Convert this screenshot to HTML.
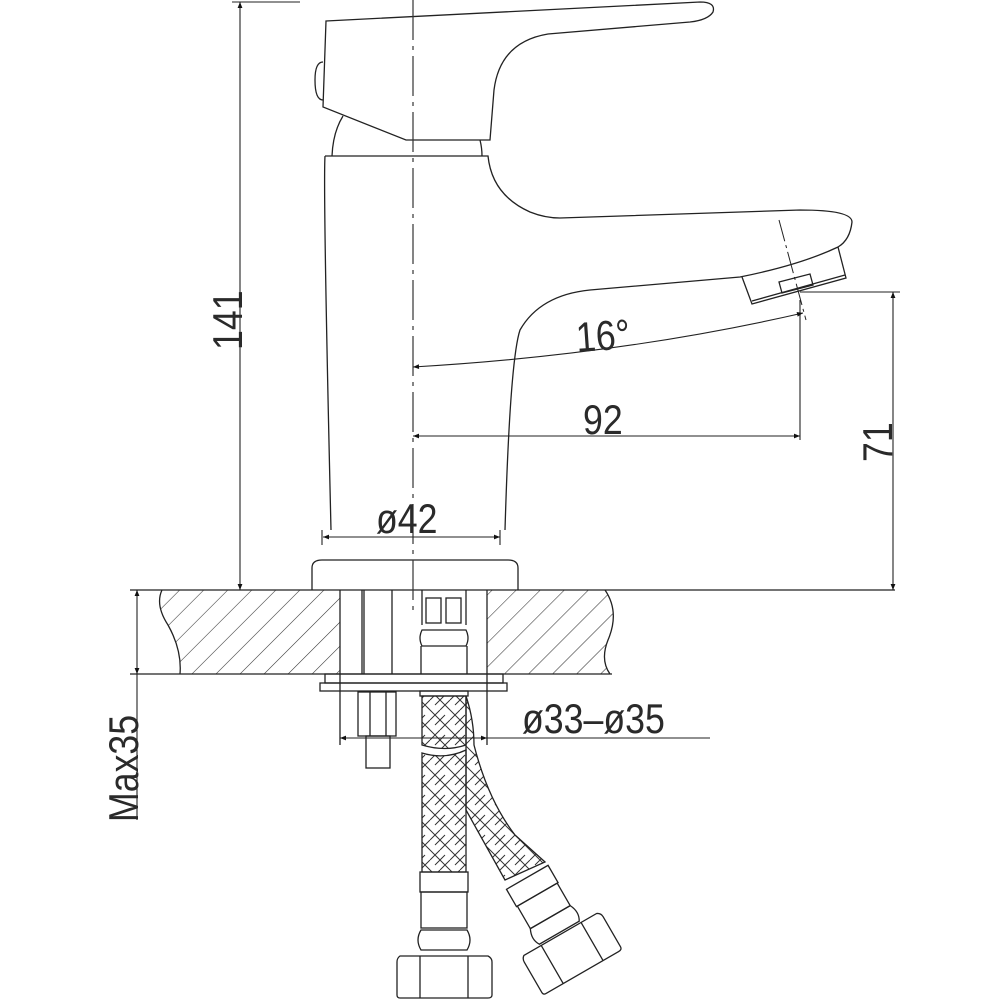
<!DOCTYPE html>
<html><head><meta charset="utf-8"><style>
html,body{margin:0;padding:0;background:#fff}
svg{display:block}
text{font-family:"Liberation Sans",sans-serif;fill:#2a2a2a}
</style></head><body>
<svg width="1000" height="1000" viewBox="0 0 1000 1000" xmlns="http://www.w3.org/2000/svg">
<defs>
<pattern id="hatch" width="17" height="17" patternUnits="userSpaceOnUse" patternTransform="rotate(45)">
<line x1="0" y1="0" x2="0" y2="17" stroke="#333" stroke-width="1.1"/>
</pattern>
<pattern id="braid" width="20" height="20" patternUnits="userSpaceOnUse">
<path d="M0 10 L10 0 M10 20 L20 10 M0 0 L10 10 M10 10 L20 20 M0 20 L5 15 M15 5 L20 0" stroke="#333" stroke-width="1" fill="none"/>
</pattern>
<marker id="ar" viewBox="0 0 10 10" refX="10" refY="5" markerWidth="14" markerHeight="6" markerUnits="userSpaceOnUse" orient="auto-start-reverse">
<path d="M0 1 L10 5 L0 9 Z" fill="#111"/>
</marker>
</defs>
<g fill="none" stroke="#222" stroke-width="1.3">
<path d="M326 21 L700 2 Q716 2 713 12 Q708 20 690 22 L548 34 Q500 42 494 90 L490 140 L406 140 L323 107 L326 21 Z" fill="#fff"/>
<path d="M323 62 Q315 62 315 80 Q315 100 323 100"/>
<path d="M343 116 Q333 132 332 156"/>
<path d="M480 140 Q482 148 482 156"/>
<path d="M325 156 L488 156 Q492 195 530 212 Q545 218 560 218 L800 210 Q852 210 852 222 Q850 240 838 247 Q800 265 740 277 L590 290 Q540 295 520 330 Q510 360 505 530 M325 156 Q323 190 331 530"/>
<path d="M742 277 L752 304 L846 278 L838 247"/>
<path d="M752 301 L845 275"/>
<path d="M779 282 L810 274 L813 285 L782 293 Z"/>
<path d="M779 220 L806 320" stroke-dasharray="22 4 3 4" stroke-width="1"/>
<path d="M312 590 L312 568 Q312 560 322 560 L508 560 Q518 560 518 568 L518 590"/>
<path d="M162 590 Q155 605 168 625 Q182 650 180 674 L340 674 L340 590 Z" fill="url(#hatch)" stroke="none"/>
<path d="M487 590 L605 590 Q620 612 608 640 Q600 660 610 674 L487 674 Z" fill="url(#hatch)" stroke="none"/>
<path d="M130 590 L895 590 M130 674 L612 674 M162 590 Q155 605 168 625 Q182 650 180 674 M605 590 Q620 612 608 640 Q600 660 610 674"/>
<path d="M340 590 L340 745 M487 590 L487 745"/>
<path d="M362 590 L362 674 M392 590 L392 674 M364 590 L364 674"/>
<rect x="325" y="674" width="178" height="9"/>
<rect x="320" y="683" width="187" height="8"/>
<rect x="358" y="692" width="38" height="44"/>
<path d="M370 692 L370 736 M386 692 L386 736"/>
<rect x="366" y="736" width="24" height="32"/>
<path d="M422 590 L422 625 M466 590 L466 625"/>
<rect x="426" y="598" width="15" height="25"/><rect x="446" y="598" width="15" height="25"/>
<path d="M422 630 Q418 638 422 646 L466 646 Q470 638 466 630 Z"/>
<path d="M421 646 L421 674 M467 646 L467 674"/>
<rect x="420" y="691" width="48" height="5"/>
<path d="M422 696 L466 696 L466 745 Q445 752 422 745 Z" fill="url(#braid)"/>
<path d="M422 753 Q445 760 466 750 L466 872 L422 872 Z" fill="url(#braid)"/>
<path d="M466 696 Q474 720 474 745 Q488 800 515 835 L545 862 L505 880 Q480 835 466 810 Z" fill="url(#braid)"/>
<rect x="420" y="872" width="48" height="20"/>
<rect x="421" y="892" width="46" height="36"/>
<path d="M421 930 Q415 940 421 950 L467 950 Q473 940 467 930 Z"/>
<path d="M400 956 L488 956 Q492 958 492 962 L492 995 Q492 998 488 998 L400 998 Q397 998 397 995 L397 962 Q397 958 400 956 Z"/>
<path d="M420 956 L420 998 M468 956 L468 998"/>
<g transform="translate(560,930) rotate(-30)">
<rect x="-26" y="-62" width="48" height="20"/>
<rect x="-25" y="-42" width="46" height="26"/>
<path d="M-25 -16 Q-30 -6 -25 2 L21 2 Q26 -6 21 -16 Z"/>
<path d="M-44 4 L40 4 Q44 6 44 10 L44 45 Q44 48 40 48 L-44 48 Q-47 48 -47 45 L-47 10 Q-47 6 -44 4 Z"/>
<path d="M-24 4 L-24 48 M22 4 L22 48"/>
</g>
</g>
<path d="M413 0 L413 615" stroke="#333" stroke-width="1.2" fill="none" stroke-dasharray="40 6 4 6"/>
<g fill="none" stroke="#222" stroke-width="1.1">
<path d="M240 2 L240 590" marker-start="url(#ar)" marker-end="url(#ar)"/>
<path d="M232 2 L300 2"/>
<path d="M893 292 L893 590" marker-start="url(#ar)" marker-end="url(#ar)"/>
<path d="M800 292 L900 292"/>
<path d="M800 300 L800 440"/>
<path d="M413 436 L800 436" marker-start="url(#ar)" marker-end="url(#ar)"/>
<path d="M413 367 Q620 355 803 313" marker-start="url(#ar)" marker-end="url(#ar)"/>
<path d="M323 537 L500 537" marker-start="url(#ar)" marker-end="url(#ar)"/>
<path d="M322 530 L322 545 M500 530 L500 545"/>
<path d="M137 590 L137 674" marker-start="url(#ar)" marker-end="url(#ar)"/>
<path d="M137 674 L137 820"/>
<path d="M340 738 L487 738" marker-start="url(#ar)" marker-end="url(#ar)"/>
<path d="M487 738 L710 738"/>
</g>
<g font-size="42">
<text x="0" y="0" transform="translate(242,350) rotate(-90) scale(0.85,1)">141</text>
<text x="0" y="0" transform="translate(892,462) rotate(-90) scale(0.85,1)">71</text>
<text x="0" y="0" transform="translate(138,822) rotate(-90) scale(0.85,1)">Max35</text>
<text x="0" y="0" transform="translate(583,434) scale(0.85,1)">92</text>
<text x="0" y="0" transform="translate(577,352) rotate(-4) scale(0.85,1)">16°</text>
<text x="0" y="0" transform="translate(376,533) scale(0.85,1)">ø42</text>
<text x="0" y="0" transform="translate(522,733) scale(0.85,1)">ø33–ø35</text>
</g>
</svg>
</body></html>
